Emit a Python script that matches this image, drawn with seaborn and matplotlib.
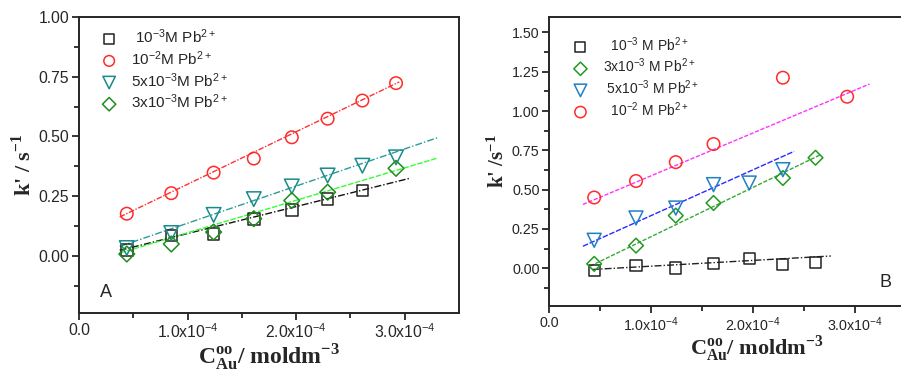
import numpy as np
import pandas as pd
import matplotlib
matplotlib.use("Agg")
import matplotlib.pyplot as plt
from matplotlib.ticker import FixedLocator, FuncFormatter
import seaborn as sns

# ---------------- data (x in mol dm^-3, y in s^-1) ----------------
xA = [0.44e-4, 0.85e-4, 1.24e-4, 1.61e-4, 1.96e-4, 2.29e-4, 2.61e-4, 2.92e-4]
A_1e3_x = xA[:7]
A_1e3_y = [0.025, 0.084, 0.091, 0.153, 0.192, 0.238, 0.273]
A_1e2_x = xA
A_1e2_y = [0.176, 0.262, 0.348, 0.407, 0.496, 0.574, 0.650, 0.723]
A_5e3_x = xA
A_5e3_y = [0.032, 0.095, 0.171, 0.237, 0.290, 0.336, 0.377, 0.412]
A_3e3_x = [0.44e-4, 0.85e-4, 1.24e-4, 1.61e-4, 1.96e-4, 2.29e-4, 2.92e-4]
A_3e3_y = [0.007, 0.049, 0.099, 0.155, 0.231, 0.266, 0.366]

B_1e3_x = [0.44e-4, 0.85e-4, 1.24e-4, 1.61e-4, 1.96e-4, 2.29e-4, 2.61e-4]
B_1e3_y = [-0.013, 0.017, 0.002, 0.032, 0.061, 0.023, 0.038]
B_3e3_x = [0.44e-4, 0.85e-4, 1.24e-4, 1.61e-4, 2.29e-4, 2.61e-4]
B_3e3_y = [0.028, 0.144, 0.335, 0.415, 0.574, 0.703]
B_5e3_x = [0.44e-4, 0.85e-4, 1.24e-4, 1.61e-4, 1.96e-4, 2.29e-4]
B_5e3_y = [0.178, 0.320, 0.383, 0.532, 0.542, 0.627]
B_1e2_x = [0.44e-4, 0.85e-4, 1.24e-4, 1.61e-4, 2.29e-4, 2.92e-4]
B_1e2_y = [0.450, 0.555, 0.675, 0.790, 1.212, 1.091]

# linear fits: slope (per 1e-4 M), intercept, x-range
A_fit_slope = [0.113, 0.2198, 0.1556, 0.136]
A_fit_icpt = [-0.020, 0.0796, -0.0194, -0.040]
A_fit_range = [(0.375e-4, 3.05e-4), (0.375e-4, 2.95e-4), (0.375e-4, 3.30e-4), (0.375e-4, 3.30e-4)]
B_fit_slope = [0.0367, 0.3137, 0.2915, 0.2726]
B_fit_icpt = [-0.0233, -0.112, 0.044, 0.316]
B_fit_range = [(0.42e-4, 2.76e-4), (0.40e-4, 2.66e-4), (0.33e-4, 2.40e-4), (0.33e-4, 3.14e-4)]

A_labels = [" 10$^{-3}$M Pb$^{2+}$", "10$^{-2}$M Pb$^{2+}$",
            "5x10$^{-3}$M Pb$^{2+}$", "3x10$^{-3}$M Pb$^{2+}$"]
B_labels = ["  10$^{-3}$ M Pb$^{2+}$", "3x10$^{-3}$ M Pb$^{2+}$",
            " 5x10$^{-3}$ M Pb$^{2+}$", "  10$^{-2}$ M Pb$^{2+}$"]

# ---------------- style ----------------
sns.set_style("ticks")
plt.rcParams.update({
    "font.family": ["Liberation Sans", "DejaVu Sans"],
    "mathtext.fontset": "custom",
    "mathtext.rm": "Liberation Sans",
    "mathtext.it": "Liberation Sans:italic",
    "mathtext.bf": "Liberation Serif:bold",
    "axes.linewidth": 1.4,
    "xtick.direction": "out",
    "ytick.direction": "out",
})

fig = plt.figure(figsize=(9.01, 3.74), dpi=100)
axA = fig.add_axes([79/901, 61/374, 380/901, 296/374])
axB = fig.add_axes([549.3/901, 68/374, 357/901, 289.3/374])

A_series = [
    (A_1e3_x, A_1e3_y, "s", 8.3, "#222222", "#111111", (0, (5, 1.5, 1, 1.5))),
    (A_1e2_x, A_1e2_y, "o", 9.0, "#ff2a2a", "#ff3030", (0, (4, 1.2, 1, 1.2))),
    (A_5e3_x, A_5e3_y, "v", 10.5, "#1a8a8a", "#2a9a9a", (0, (5, 1.5, 1, 1.5))),
    (A_3e3_x, A_3e3_y, "D", 8.0, "#228b22", "#33ff33", (0, (4, 1.2))),
]
B_series = [
    (B_1e3_x, B_1e3_y, "s", 8.0, "#222222", "#222222", (0, (5, 1.5, 1, 1.5))),
    (B_3e3_x, B_3e3_y, "D", 7.5, "#229922", "#33aa33", (0, (3, 1.2))),
    (B_5e3_x, B_5e3_y, "v", 10.0, "#2080c0", "#2a2aff", (0, (4, 1.2))),
    (B_1e2_x, B_1e2_y, "o", 9.0, "#ff2a2a", "#ff33ff", (0, (3, 1.2))),
]


def draw(ax, series, labels, slopes, icpts, ranges):
    for (x, y, m, ms, mc, lc, ls), lab, sl, ic, rg in zip(series, labels, slopes, icpts, ranges):
        fx = np.array(rg)
        fy = sl * fx / 1e-4 + ic
        sns.lineplot(x=fx, y=fy, color=lc, linestyle=ls, linewidth=1.0, ax=ax, legend=False)
    for (x, y, m, ms, mc, lc, ls), lab in zip(series, labels):
        sns.scatterplot(x=x, y=y, marker=m, s=ms**2, color=mc, facecolor="none",
                        edgecolor=mc, linewidth=1.1, label=lab, ax=ax, zorder=3)


draw(axA, A_series, A_labels, A_fit_slope, A_fit_icpt, A_fit_range)
draw(axB, B_series, B_labels, B_fit_slope, B_fit_icpt, B_fit_range)


def xfmt(v, pos):
    if abs(v) < 1e-12:
        return "0.0"
    return "%.1fx10$^{-4}$" % (v / 1e-4)


for ax, ylim, ymaj, tfs in [
    (axA, (-0.24, 1.0), [0, 0.25, 0.5, 0.75, 1.0], 11.3),
    (axB, (-0.24, 1.6), [0, 0.25, 0.5, 0.75, 1.0, 1.25, 1.5], 10.3),
]:
    ax.set_xlim(0, 3.5e-4)
    ax.set_ylim(*ylim)
    ax.xaxis.set_major_locator(FixedLocator([0, 1e-4, 2e-4, 3e-4]))
    ax.xaxis.set_minor_locator(FixedLocator([0.5e-4, 1.5e-4, 2.5e-4]))
    ax.yaxis.set_major_locator(FixedLocator(ymaj))
    ax.yaxis.set_minor_locator(FixedLocator(list(np.array(ymaj[:-1]) + 0.125) + [-0.125]))
    ax.xaxis.set_major_formatter(FuncFormatter(xfmt))
    ax.yaxis.set_major_formatter(FuncFormatter(lambda v, p: "%.2f" % v))
    ax.tick_params(which="major", length=5, width=1.3, labelsize=tfs, pad=2)
    ax.tick_params(which="minor", length=3.5, width=1.3)
    for s in ax.spines.values():
        s.set_visible(True)
        s.set_linewidth(1.4)

axA.set_xlabel(r"C$^{\mathbf{oo}}_{\mathbf{Au}}$/ moldm$^{\mathbf{-3}}$",
               family="Liberation Serif", weight="bold", fontsize=17, labelpad=0)
axA.set_ylabel(r"k' / s$^{\mathbf{-1}}$", family="Liberation Serif", weight="bold",
               fontsize=16, labelpad=2)
axB.set_xlabel(r"C$^{\mathbf{oo}}_{\mathbf{Au}}$/ moldm$^{\mathbf{-3}}$",
               family="Liberation Serif", weight="bold", fontsize=16, labelpad=-1)
axB.xaxis.label.set_x(0.58)
axB.set_ylabel(r"k' /s$^{\mathbf{-1}}$", family="Liberation Serif", weight="bold",
               fontsize=15, labelpad=2)

axA.legend(loc="upper left", bbox_to_anchor=(0.015, 0.995), frameon=False, fontsize=11,
           handletextpad=0.4, labelspacing=0.2, borderaxespad=0.2, markerscale=0.85)
axB.legend(loc="upper left", bbox_to_anchor=(0.025, 0.965), frameon=False, fontsize=10,
           handletextpad=0.6, labelspacing=0.22, borderaxespad=0.2, markerscale=0.9)

axA.text(0.055, 0.07, "A", transform=axA.transAxes, fontsize=13, va="center", ha="left")
axB.text(0.925, 0.08, "B", transform=axB.transAxes, fontsize=13, va="center", ha="left")

fig.savefig("out.png", dpi=100)
